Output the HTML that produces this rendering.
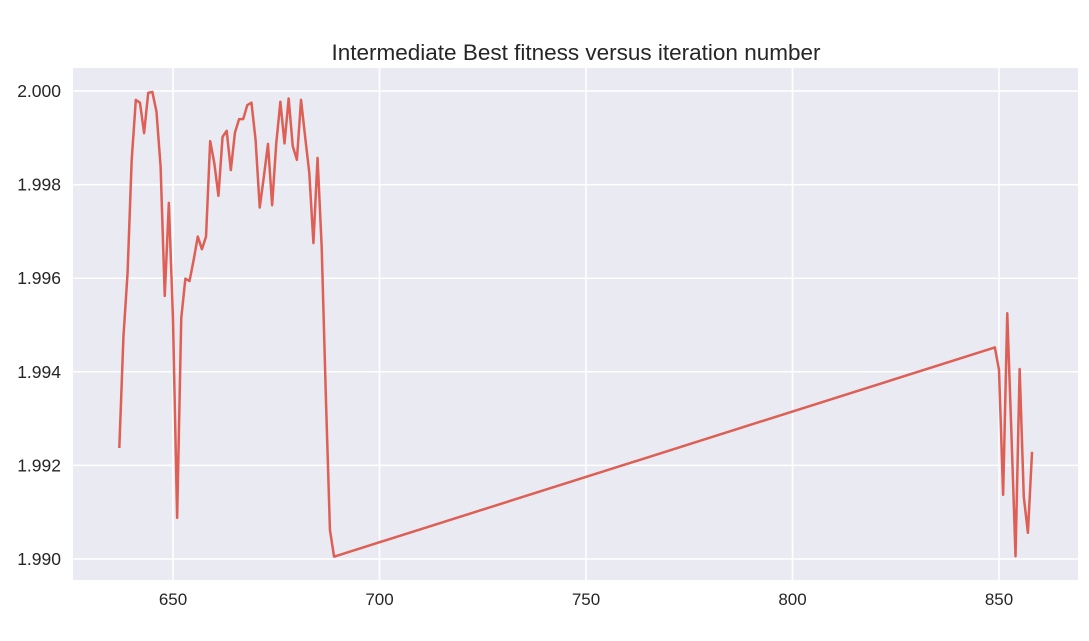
<!DOCTYPE html>
<html><head><meta charset="utf-8"><style>
body{margin:0;background:#fff;width:1089px;height:636px;overflow:hidden}
svg text{font-family:"Liberation Sans",Arial,sans-serif;fill:#262626}
</style></head><body>
<svg id="chart" width="1089" height="636" xmlns="http://www.w3.org/2000/svg">
<text x="576" y="60" font-size="22.5" text-anchor="middle">Intermediate Best fitness versus iteration number</text>
<rect x="73" y="68" width="1005" height="512" fill="#eaeaf2"/>
<g id="grid"></g><g id="ticks"></g><g id="series"></g>
</svg>
<script>
const iterations=[637,638,639,640,641,642,643,644,645,646,647,648,649,650,651,652,653,654,655,656,657,658,659,660,661,662,663,664,665,666,667,668,669,670,671,672,673,674,675,676,677,678,679,680,681,682,683,684,685,686,687,688,689,849,850,851,852,853,854,855,856,857,858];
const fitness=[1.99237,1.99475,1.99611,1.99853,1.99981,1.99975,1.99910,1.99996,1.99998,1.99956,1.99838,1.99562,1.99761,1.99511,1.99088,1.99515,1.99599,1.99594,1.99639,1.99689,1.99662,1.99689,1.99893,1.99846,1.99776,1.99902,1.99915,1.99831,1.99911,1.99940,1.99940,1.99970,1.99975,1.99895,1.99751,1.99817,1.99887,1.99756,1.99888,1.99977,1.99888,1.99984,1.99882,1.99853,1.99981,1.99902,1.99825,1.99675,1.99857,1.99667,1.9935,1.99062,1.99005,1.99452,1.99404,1.99137,1.99525,1.9927,1.99006,1.99406,1.99133,1.99056,1.99229];
const xTicks=[650,700,750,800,850];
const yTicks=[1.990,1.992,1.994,1.996,1.998,2.000];
const X=v=>173+(v-650)*(206.5/50);
const Y=v=>91+(2.0-v)*(468/0.010);
const NS='http://www.w3.org/2000/svg';
const grid=document.getElementById('grid'),ticks=document.getElementById('ticks'),ser=document.getElementById('series');
function mk(t,a){const e=document.createElementNS(NS,t);for(const k in a)e.setAttribute(k,a[k]);return e;}
xTicks.forEach(v=>{
 const l=mk('line',{x1:X(v),x2:X(v),y1:68,y2:580,stroke:'#fff','stroke-width':1.5});
 
 
 grid.appendChild(l);
 const t=mk('text',{x:X(v),y:605,'font-size':17,'text-anchor':'middle'});t.textContent=v;
 
 
 ticks.appendChild(t);
});
yTicks.forEach(v=>{
 const l=mk('line',{x1:73,x2:1078,y1:Y(v),y2:Y(v),stroke:'#fff','stroke-width':1.5});
 
 
 grid.appendChild(l);
 const t=mk('text',{x:61,y:Y(v)+6,'font-size':17.5,'text-anchor':'end'});t.textContent=v.toFixed(3);
 
 
 ticks.appendChild(t);
});
const p=mk('polyline',{points:iterations.map((x,i)=>X(x)+','+Y(fitness[i])).join(' '),fill:'none',stroke:'#dd5f55','stroke-width':2.5,'stroke-linejoin':'round'});


ser.appendChild(p);
</script>
</body></html>
